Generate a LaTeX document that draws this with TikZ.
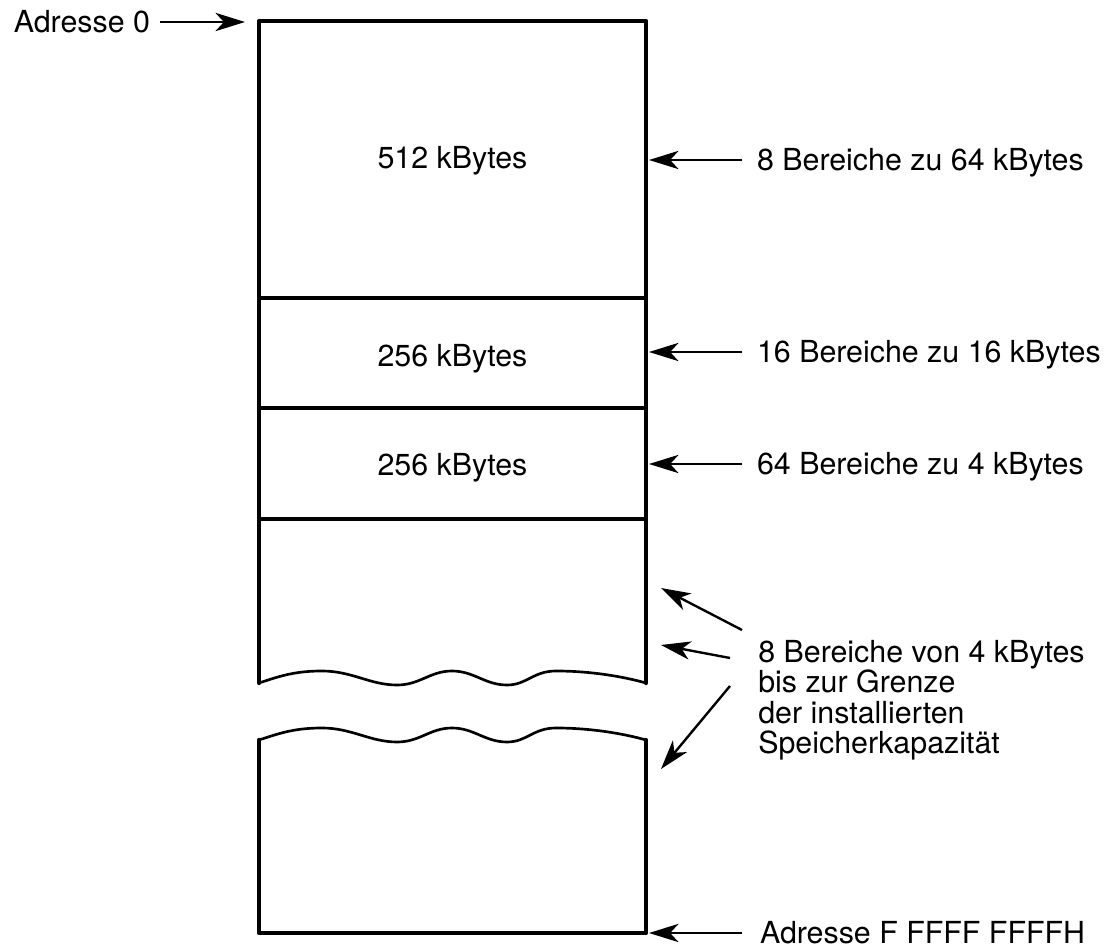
\documentclass[tikz,border=0pt]{standalone}
\usepackage{fontspec}
\setmainfont{TeX Gyre Heros}
\usetikzlibrary{arrows.meta,positioning}

\begin{document}
\begin{tikzpicture}[x=0.025cm,y=-0.025cm,
  box/.style={line width=3.1pt,line join=round,line cap=round},
  sep/.style={line width=2.3pt},
  wave/.style={line width=1.9pt},
  arr/.style={line width=1.7pt,-{Stealth[length=21pt,width=13pt,inset=6pt]}},
  lbl/.style={font=\fontsize{21.6}{21.6}\selectfont,inner sep=0pt,text height=15.6pt,text depth=0pt},
  rlbl/.style={lbl,outer xsep=0.375cm},
  grplbl/.style={font=\fontsize{21.6}{21.6}\selectfont,inner sep=0pt,align=left}]
\useasboundingbox (0,0) rectangle (1114,951);

% upper part of the memory
\coordinate (tl) at (259,21);
\coordinate (tr) at (646,21);
\draw[box] (259,683) -- (tl) -- (tr) -- (646,683);
\coordinate (d1) at (259,298);
\coordinate (d2) at (259,408);
\coordinate (d3) at (259,519);
\foreach \d in {d1,d2,d3}
  \draw[sep] (\d) -- (\d -| tr);

% lower part
\coordinate (bl) at (259,933);
\coordinate (br) at (646,933);
\draw[box] (259,740) -- (bl) -- (br) -- (646,740);

% the two breaks
\foreach \dy in {0,57}
  \draw[wave,shift={(0,\dy)}] (259,683) .. controls (280,676) and (295,671) .. (322,671)
    .. controls (352,671) and (370,685) .. (397,685)
    .. controls (420,685) and (430,671) .. (452,671)
    .. controls (474,671) and (485,685) .. (507,685)
    .. controls (527,685) and (533,671) .. (556,671)
    .. controls (592,671) and (625,677) .. (646,683);

\node[lbl] (k512) at (452.5,158) {512 kBytes};
\node[lbl] (k256a) at (452.5,356) {256 kBytes};
\node[lbl] (k256b) at (452.5,465) {256 kBytes};

\coordinate (a0) at (245,22);
\node[lbl,outer xsep=0.25cm,left=2.125cm of a0] (adr0) {Adresse 0};
\draw[arr] (adr0) -- (a0);

\coordinate (e1) at (649,160);
\coordinate (e2) at (649,352);
\coordinate (e3) at (649,464);
\coordinate (e4) at (649,933);
\node[rlbl,right=2.325cm of e1] (n1) {8 Bereiche zu 64 kBytes};
\node[rlbl,right=2.325cm of e2] (n2) {16 Bereiche zu 16 kBytes};
\node[rlbl,right=2.325cm of e3] (n3) {64 Bereiche zu 4 kBytes};
\node[rlbl,outer xsep=0.45cm,right=2.325cm of e4] (adrF) {Adresse F FFFF FFFFH};
\draw[arr] (n1) -- (e1);
\draw[arr] (n2) -- (e2);
\draw[arr] (n3) -- (e3);
\draw[arr] (adrF) -- (e4);

\node[grplbl,anchor=north west] (grp) at (758,640)
  {8 Bereiche von 4 kBytes\\bis zur Grenze\\der installierten\\Speicherkapazit\"at};
\coordinate (s1) at (742,630);
\coordinate (s2) at (730,658);
\coordinate (s3) at (730,686);
\coordinate (p1) at (661,588);
\coordinate (p2) at (661,645);
\coordinate (p3) at (661,769);
\draw[arr] (s1) -- (p1);
\draw[arr] (s2) -- (p2);
\draw[arr] (s3) -- (p3);
\end{tikzpicture}
\end{document}
